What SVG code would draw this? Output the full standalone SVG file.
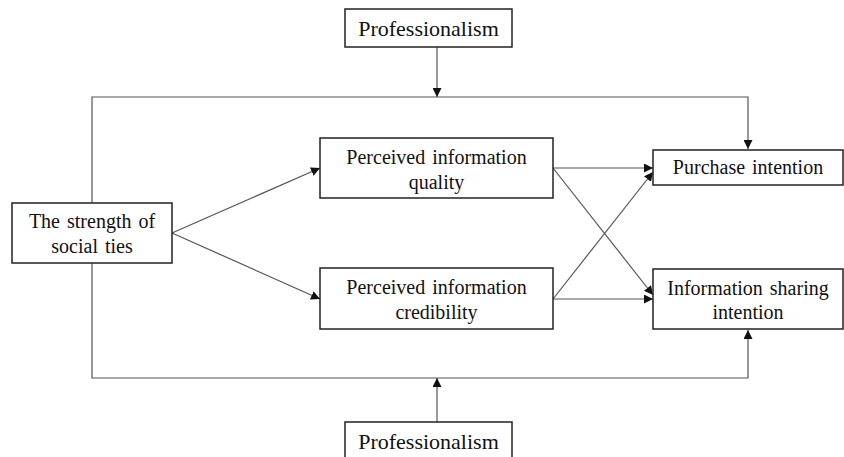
<svg xmlns="http://www.w3.org/2000/svg" width="844" height="457" viewBox="0 0 844 457">
<defs>
<marker id="ah" viewBox="0 0 10 10" refX="10" refY="5" markerWidth="9" markerHeight="9" markerUnits="userSpaceOnUse" orient="auto">
<path d="M0,0 L10,5 L0,10 z" fill="#111"/>
</marker>
<style>
.box{fill:#fff;stroke:#222;stroke-width:1.5}
.t{font-family:"Liberation Serif","Times New Roman",serif;font-size:20px;fill:#111;text-anchor:middle;word-spacing:2px}
.tb{font-size:22px}
.c{fill:none;stroke:#555;stroke-width:1.2}
</style>
</defs>
<rect width="844" height="457" fill="#fff"/>
<g id="connectors">
<polyline class="c" points="92,203 92,97 748,97 748,149" marker-end="url(#ah)"/>
<polyline class="c" points="92,263 92,378 748,378 748,330" marker-end="url(#ah)"/>
<line class="c" x1="437" y1="47" x2="437" y2="97" marker-end="url(#ah)"/>
<line class="c" x1="437" y1="422" x2="437" y2="378" marker-end="url(#ah)"/>
<line class="c" x1="172" y1="233" x2="320" y2="168" marker-end="url(#ah)"/>
<line class="c" x1="172" y1="233" x2="320" y2="299" marker-end="url(#ah)"/>
<line class="c" x1="553" y1="168" x2="653" y2="168" marker-end="url(#ah)"/>
<line class="c" x1="553" y1="299" x2="653" y2="299" marker-end="url(#ah)"/>
<line class="c" x1="553" y1="168" x2="653" y2="295" marker-end="url(#ah)"/>
<line class="c" x1="553" y1="299" x2="653" y2="172" marker-end="url(#ah)"/>
</g>
<g id="prof-top">
<rect class="box" x="345" y="9" width="167" height="38"/>
<text class="t tb" x="428.5" y="36">Professionalism</text>
</g>
<g id="prof-bottom">
<rect class="box" x="345" y="422" width="167" height="40"/>
<text class="t tb" x="428.5" y="449">Professionalism</text>
</g>
<g id="strength">
<rect class="box" x="12" y="203" width="160" height="60"/>
<text class="t" x="92" y="228">The strength of</text>
<text class="t" x="92" y="253">social ties</text>
</g>
<g id="quality">
<rect class="box" x="320" y="138" width="233" height="60"/>
<text class="t" x="436.5" y="164">Perceived information</text>
<text class="t" x="436.5" y="189">quality</text>
</g>
<g id="credibility">
<rect class="box" x="320" y="268" width="233" height="61"/>
<text class="t" x="436.5" y="294">Perceived information</text>
<text class="t" x="436.5" y="319">credibility</text>
</g>
<g id="purchase">
<rect class="box" x="653" y="150" width="190" height="35"/>
<text class="t" x="748" y="174">Purchase intention</text>
</g>
<g id="sharing">
<rect class="box" x="653" y="269" width="190" height="60"/>
<text class="t" x="748" y="295">Information sharing</text>
<text class="t" x="748" y="319">intention</text>
</g>
</svg>
